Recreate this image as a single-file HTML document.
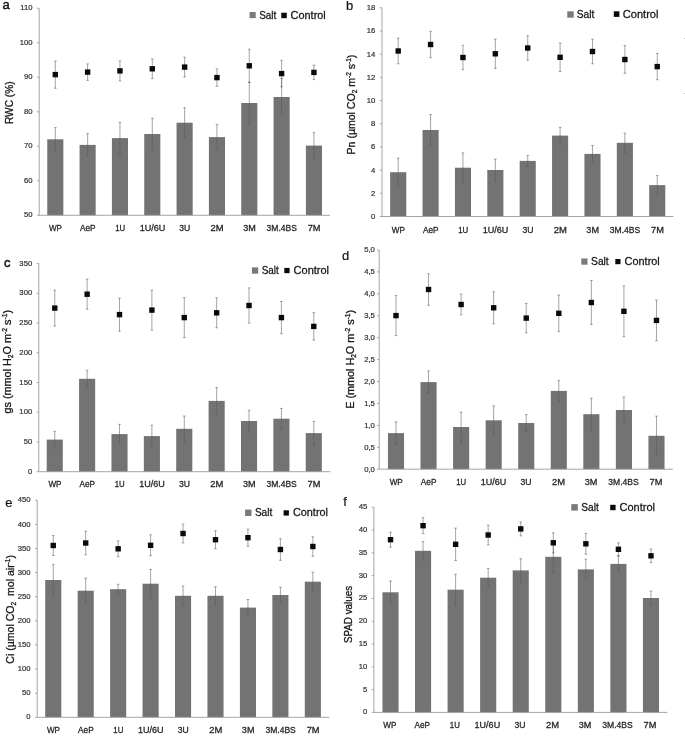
<!DOCTYPE html>
<html lang="en">
<head>
<meta charset="utf-8">
<title>Figure: physiological parameters under salt and control conditions</title>
<style>
html,body{margin:0;padding:0;background:#fff;}
body{width:685px;height:738px;overflow:hidden;}
svg{display:block;filter:blur(0.35px);}
text{font-family:"Liberation Sans",Arial,sans-serif;fill:#262626;}
.tk{font-size:7.7px;text-anchor:end;fill:#303030;stroke:#303030;stroke-width:0.2px;}
.xl{font-size:8.3px;text-anchor:middle;fill:#262626;stroke:#262626;stroke-width:0.27px;}
.lg{font-size:10.8px;fill:#161616;stroke:#161616;stroke-width:0.27px;}
.yt{fill:#161616;stroke:#161616;stroke-width:0.3px;}
.pl{font-size:13px;fill:#111;stroke:#111;stroke-width:0.18px;}
.pl.b{font-size:13px;stroke-width:0.45px;}
.ax{fill:none;stroke:#9c9c9c;stroke-width:0.9;}
.eb{fill:none;stroke:#5a5a5a;stroke-width:0.55;}
</style>
</head>
<body>
<svg width="685" height="738" viewBox="0 0 685 738">
<rect width="685" height="738" fill="#ffffff"/>
<g id="panel-a">
<rect x="47.25" y="139.3" width="16.1" height="76" fill="#737373"/>
<rect x="79.58" y="144.9" width="16.1" height="70.4" fill="#737373"/>
<rect x="111.91" y="138.1" width="16.1" height="77.2" fill="#737373"/>
<rect x="144.24" y="134" width="16.1" height="81.3" fill="#737373"/>
<rect x="176.57" y="122.7" width="16.1" height="92.6" fill="#737373"/>
<rect x="208.9" y="137.1" width="16.1" height="78.2" fill="#737373"/>
<rect x="241.23" y="103" width="16.1" height="112.3" fill="#737373"/>
<rect x="273.56" y="97" width="16.1" height="118.3" fill="#737373"/>
<rect x="305.89" y="145.6" width="16.1" height="69.7" fill="#737373"/>
<path class="ax" d="M39.2 8.3V215.3H330"/>
<path class="ax" d="M37 8.3H39.2M37 42.8H39.2M37 77.3H39.2M37 111.8H39.2M37 146.3H39.2M37 180.8H39.2M37 215.3H39.2"/>
<path class="eb" d="M55.3 127.6V151M54 127.6h2.6M54 151h2.6M55.3 61V88.2M54 61h2.6M54 88.2h2.6M87.63 133.6V156.2M86.33 133.6h2.6M86.33 156.2h2.6M87.63 63.9V80.3M86.33 63.9h2.6M86.33 80.3h2.6M119.96 122.5V153.7M118.66 122.5h2.6M118.66 153.7h2.6M119.96 60.9V80.9M118.66 60.9h2.6M118.66 80.9h2.6M152.29 118.2V149.8M150.99 118.2h2.6M150.99 149.8h2.6M152.29 59V78.6M150.99 59h2.6M150.99 78.6h2.6M184.62 107.7V137.7M183.32 107.7h2.6M183.32 137.7h2.6M184.62 57.2V77M183.32 57.2h2.6M183.32 77h2.6M216.95 124.6V149.6M215.65 124.6h2.6M215.65 149.6h2.6M216.95 68.9V86.3M215.65 68.9h2.6M215.65 86.3h2.6M249.28 82.2V123.8M247.98 82.2h2.6M247.98 123.8h2.6M249.28 49.2V82.4M247.98 49.2h2.6M247.98 82.4h2.6M281.61 78.4V115.6M280.31 78.4h2.6M280.31 115.6h2.6M281.61 60.3V86.9M280.31 60.3h2.6M280.31 86.9h2.6M313.94 132.4V158.8M312.64 132.4h2.6M312.64 158.8h2.6M313.94 65.2V79.6M312.64 65.2h2.6M312.64 79.6h2.6"/>
<rect x="52.6" y="71.9" width="5.4" height="5.4" fill="#0a0a0a"/>
<rect x="84.93" y="69.4" width="5.4" height="5.4" fill="#0a0a0a"/>
<rect x="117.26" y="68.2" width="5.4" height="5.4" fill="#0a0a0a"/>
<rect x="149.59" y="66.1" width="5.4" height="5.4" fill="#0a0a0a"/>
<rect x="181.92" y="64.4" width="5.4" height="5.4" fill="#0a0a0a"/>
<rect x="214.25" y="74.9" width="5.4" height="5.4" fill="#0a0a0a"/>
<rect x="246.58" y="63.1" width="5.4" height="5.4" fill="#0a0a0a"/>
<rect x="278.91" y="70.9" width="5.4" height="5.4" fill="#0a0a0a"/>
<rect x="311.24" y="69.7" width="5.4" height="5.4" fill="#0a0a0a"/>
<text class="tk" x="32.6" y="10.1">110</text>
<text class="tk" x="32.6" y="44.6">100</text>
<text class="tk" x="32.6" y="79.1">90</text>
<text class="tk" x="32.6" y="113.6">80</text>
<text class="tk" x="32.6" y="148.1">70</text>
<text class="tk" x="32.6" y="182.6">60</text>
<text class="tk" x="32.6" y="217.1">50</text>
<text class="xl" x="55.5" y="231.3" textLength="13.1" lengthAdjust="spacingAndGlyphs">WP</text>
<text class="xl" x="87.83" y="231.3" textLength="15.6" lengthAdjust="spacingAndGlyphs">AeP</text>
<text class="xl" x="120.16" y="231.3" textLength="10" lengthAdjust="spacingAndGlyphs">1U</text>
<text class="xl" x="152.49" y="231.3" textLength="25.6" lengthAdjust="spacingAndGlyphs">1U/6U</text>
<text class="xl" x="184.82" y="231.3" textLength="11" lengthAdjust="spacingAndGlyphs">3U</text>
<text class="xl" x="217.15" y="231.3" textLength="13.1" lengthAdjust="spacingAndGlyphs">2M</text>
<text class="xl" x="249.48" y="231.3" textLength="12.6" lengthAdjust="spacingAndGlyphs">3M</text>
<text class="xl" x="281.81" y="231.3" textLength="30.4" lengthAdjust="spacingAndGlyphs">3M.4BS</text>
<text class="xl" x="314.14" y="231.3" textLength="12.8" lengthAdjust="spacingAndGlyphs">7M</text>
<rect x="249.6" y="12" width="6.1" height="6.1" fill="#7a7a7a"/>
<text class="lg" x="259.2" y="18.6" textLength="17.1" lengthAdjust="spacingAndGlyphs">Salt</text>
<rect x="281.3" y="12.7" width="5.5" height="5.5" fill="#0a0a0a"/>
<text class="lg" x="290.6" y="18.6" textLength="35.2" lengthAdjust="spacingAndGlyphs">Control</text>
<text class="yt" font-size="10.7" transform="translate(12.5 124.1) rotate(-90)" textLength="42.7" lengthAdjust="spacingAndGlyphs">RWC (%)</text>
<text class="pl b" x="2.6" y="9.3">a</text>
</g>
<g id="panel-b">
<rect x="390.15" y="172.2" width="16.1" height="44.3" fill="#737373"/>
<rect x="422.53" y="130" width="16.1" height="86.5" fill="#737373"/>
<rect x="454.91" y="167.7" width="16.1" height="48.8" fill="#737373"/>
<rect x="487.29" y="170" width="16.1" height="46.5" fill="#737373"/>
<rect x="519.67" y="160.9" width="16.1" height="55.6" fill="#737373"/>
<rect x="552.05" y="135.6" width="16.1" height="80.9" fill="#737373"/>
<rect x="584.43" y="153.9" width="16.1" height="62.6" fill="#737373"/>
<rect x="616.81" y="142.8" width="16.1" height="73.7" fill="#737373"/>
<rect x="649.19" y="185.1" width="16.1" height="31.4" fill="#737373"/>
<path class="ax" d="M382 7.8V216.5H673.3"/>
<path class="ax" d="M379.8 7.8H382M379.8 30.99H382M379.8 54.18H382M379.8 77.37H382M379.8 100.56H382M379.8 123.74H382M379.8 146.93H382M379.8 170.12H382M379.8 193.31H382M379.8 216.5H382"/>
<path class="eb" d="M398.2 158.2V186.2M396.9 158.2h2.6M396.9 186.2h2.6M398.2 38.2V63.8M396.9 38.2h2.6M396.9 63.8h2.6M430.58 114.5V145.5M429.28 114.5h2.6M429.28 145.5h2.6M430.58 31.3V57.7M429.28 31.3h2.6M429.28 57.7h2.6M462.96 152.9V182.5M461.66 152.9h2.6M461.66 182.5h2.6M462.96 45.3V69.7M461.66 45.3h2.6M461.66 69.7h2.6M495.34 159V181M494.04 159h2.6M494.04 181h2.6M495.34 39.2V68.4M494.04 39.2h2.6M494.04 68.4h2.6M527.72 155.5V166.3M526.42 155.5h2.6M526.42 166.3h2.6M527.72 35.8V60.2M526.42 35.8h2.6M526.42 60.2h2.6M560.1 127.4V143.8M558.8 127.4h2.6M558.8 143.8h2.6M560.1 43.1V71.5M558.8 43.1h2.6M558.8 71.5h2.6M592.48 145.5V162.3M591.18 145.5h2.6M591.18 162.3h2.6M592.48 39.2V63.8M591.18 39.2h2.6M591.18 63.8h2.6M624.86 133.2V152.4M623.56 133.2h2.6M623.56 152.4h2.6M624.86 45.7V73.3M623.56 45.7h2.6M623.56 73.3h2.6M657.24 175.6V194.6M655.94 175.6h2.6M655.94 194.6h2.6M657.24 53.5V79.7M655.94 53.5h2.6M655.94 79.7h2.6"/>
<rect x="395.5" y="48.3" width="5.4" height="5.4" fill="#0a0a0a"/>
<rect x="427.88" y="41.8" width="5.4" height="5.4" fill="#0a0a0a"/>
<rect x="460.26" y="54.8" width="5.4" height="5.4" fill="#0a0a0a"/>
<rect x="492.64" y="51.1" width="5.4" height="5.4" fill="#0a0a0a"/>
<rect x="525.02" y="45.3" width="5.4" height="5.4" fill="#0a0a0a"/>
<rect x="557.4" y="54.6" width="5.4" height="5.4" fill="#0a0a0a"/>
<rect x="589.78" y="48.8" width="5.4" height="5.4" fill="#0a0a0a"/>
<rect x="622.16" y="56.8" width="5.4" height="5.4" fill="#0a0a0a"/>
<rect x="654.54" y="63.9" width="5.4" height="5.4" fill="#0a0a0a"/>
<text class="tk" x="375.4" y="10.2">18</text>
<text class="tk" x="375.4" y="33.39">16</text>
<text class="tk" x="375.4" y="56.58">14</text>
<text class="tk" x="375.4" y="79.77">12</text>
<text class="tk" x="375.4" y="102.96">10</text>
<text class="tk" x="375.4" y="126.14">8</text>
<text class="tk" x="375.4" y="149.33">6</text>
<text class="tk" x="375.4" y="172.52">4</text>
<text class="tk" x="375.4" y="195.71">2</text>
<text class="tk" x="375.4" y="218.9">0</text>
<text class="xl" x="398.4" y="232.5" textLength="13.1" lengthAdjust="spacingAndGlyphs">WP</text>
<text class="xl" x="430.78" y="232.5" textLength="15.6" lengthAdjust="spacingAndGlyphs">AeP</text>
<text class="xl" x="463.16" y="232.5" textLength="10" lengthAdjust="spacingAndGlyphs">1U</text>
<text class="xl" x="495.54" y="232.5" textLength="25.6" lengthAdjust="spacingAndGlyphs">1U/6U</text>
<text class="xl" x="527.92" y="232.5" textLength="11" lengthAdjust="spacingAndGlyphs">3U</text>
<text class="xl" x="560.3" y="232.5" textLength="13.1" lengthAdjust="spacingAndGlyphs">2M</text>
<text class="xl" x="592.68" y="232.5" textLength="12.6" lengthAdjust="spacingAndGlyphs">3M</text>
<text class="xl" x="625.06" y="232.5" textLength="30.4" lengthAdjust="spacingAndGlyphs">3M.4BS</text>
<text class="xl" x="657.44" y="232.5" textLength="12.8" lengthAdjust="spacingAndGlyphs">7M</text>
<rect x="567.3" y="11.3" width="6.4" height="6.4" fill="#7a7a7a"/>
<text class="lg" x="576.8" y="18" textLength="17.6" lengthAdjust="spacingAndGlyphs">Salt</text>
<rect x="613.8" y="11.3" width="5.6" height="5.6" fill="#0a0a0a"/>
<text class="lg" x="622.8" y="18" textLength="35.7" lengthAdjust="spacingAndGlyphs">Control</text>
<text class="yt" font-size="10.7" transform="translate(354.6 154.4) rotate(-90)" textLength="99.7" lengthAdjust="spacingAndGlyphs">Pn (µmol CO<tspan font-size="6.63" dy="2.5">2</tspan><tspan dy="-2.5"> m</tspan><tspan font-size="6.63" dy="-3.6">-2</tspan><tspan dy="3.6"> s</tspan><tspan font-size="6.63" dy="-3.6">-1</tspan><tspan dy="3.6">)</tspan></text>
<text class="pl" x="346" y="10">b</text>
</g>
<g id="panel-c">
<rect x="46.7" y="439.6" width="16.1" height="32.1" fill="#737373"/>
<rect x="79.08" y="378.8" width="16.1" height="92.9" fill="#737373"/>
<rect x="111.46" y="434.1" width="16.1" height="37.6" fill="#737373"/>
<rect x="143.84" y="436.1" width="16.1" height="35.6" fill="#737373"/>
<rect x="176.22" y="428.8" width="16.1" height="42.9" fill="#737373"/>
<rect x="208.6" y="400.9" width="16.1" height="70.8" fill="#737373"/>
<rect x="240.98" y="421" width="16.1" height="50.7" fill="#737373"/>
<rect x="273.36" y="418.7" width="16.1" height="53" fill="#737373"/>
<rect x="305.74" y="433.1" width="16.1" height="38.6" fill="#737373"/>
<path class="ax" d="M38.8 263.6V471.7H330.3"/>
<path class="ax" d="M36.6 263.6H38.8M36.6 293.33H38.8M36.6 323.06H38.8M36.6 352.79H38.8M36.6 382.51H38.8M36.6 412.24H38.8M36.6 441.97H38.8M36.6 471.7H38.8"/>
<path class="eb" d="M54.75 431.3V447.9M53.45 431.3h2.6M53.45 447.9h2.6M54.75 290.2V326M53.45 290.2h2.6M53.45 326h2.6M87.13 370.2V387.4M85.83 370.2h2.6M85.83 387.4h2.6M87.13 279.1V309.3M85.83 279.1h2.6M85.83 309.3h2.6M119.51 424.3V443.9M118.21 424.3h2.6M118.21 443.9h2.6M119.51 298V331.2M118.21 298h2.6M118.21 331.2h2.6M151.89 425.2V447M150.59 425.2h2.6M150.59 447h2.6M151.89 290.1V330.1M150.59 290.1h2.6M150.59 330.1h2.6M184.27 416V441.6M182.97 416h2.6M182.97 441.6h2.6M184.27 297.7V337.5M182.97 297.7h2.6M182.97 337.5h2.6M216.65 387.5V414.3M215.35 387.5h2.6M215.35 414.3h2.6M216.65 297.8V327.8M215.35 297.8h2.6M215.35 327.8h2.6M249.03 410.3V431.7M247.73 410.3h2.6M247.73 431.7h2.6M249.03 287.9V323.1M247.73 287.9h2.6M247.73 323.1h2.6M281.41 408.4V429M280.11 408.4h2.6M280.11 429h2.6M281.41 301.5V333.7M280.11 301.5h2.6M280.11 333.7h2.6M313.79 421.4V444.8M312.49 421.4h2.6M312.49 444.8h2.6M313.79 312.7V340.1M312.49 312.7h2.6M312.49 340.1h2.6"/>
<rect x="52.05" y="305.4" width="5.4" height="5.4" fill="#0a0a0a"/>
<rect x="84.43" y="291.5" width="5.4" height="5.4" fill="#0a0a0a"/>
<rect x="116.81" y="311.9" width="5.4" height="5.4" fill="#0a0a0a"/>
<rect x="149.19" y="307.4" width="5.4" height="5.4" fill="#0a0a0a"/>
<rect x="181.57" y="314.9" width="5.4" height="5.4" fill="#0a0a0a"/>
<rect x="213.95" y="310.1" width="5.4" height="5.4" fill="#0a0a0a"/>
<rect x="246.33" y="302.8" width="5.4" height="5.4" fill="#0a0a0a"/>
<rect x="278.71" y="314.9" width="5.4" height="5.4" fill="#0a0a0a"/>
<rect x="311.09" y="323.7" width="5.4" height="5.4" fill="#0a0a0a"/>
<text class="tk" x="32.2" y="265.75">350</text>
<text class="tk" x="32.2" y="295.48">300</text>
<text class="tk" x="32.2" y="325.21">250</text>
<text class="tk" x="32.2" y="354.94">200</text>
<text class="tk" x="32.2" y="384.66">150</text>
<text class="tk" x="32.2" y="414.39">100</text>
<text class="tk" x="32.2" y="444.12">50</text>
<text class="tk" x="32.2" y="473.85">0</text>
<text class="xl" x="54.95" y="487.3" textLength="13.1" lengthAdjust="spacingAndGlyphs">WP</text>
<text class="xl" x="87.33" y="487.3" textLength="15.6" lengthAdjust="spacingAndGlyphs">AeP</text>
<text class="xl" x="119.71" y="487.3" textLength="10" lengthAdjust="spacingAndGlyphs">1U</text>
<text class="xl" x="152.09" y="487.3" textLength="25.6" lengthAdjust="spacingAndGlyphs">1U/6U</text>
<text class="xl" x="184.47" y="487.3" textLength="11" lengthAdjust="spacingAndGlyphs">3U</text>
<text class="xl" x="216.85" y="487.3" textLength="13.1" lengthAdjust="spacingAndGlyphs">2M</text>
<text class="xl" x="249.23" y="487.3" textLength="12.6" lengthAdjust="spacingAndGlyphs">3M</text>
<text class="xl" x="281.61" y="487.3" textLength="30.4" lengthAdjust="spacingAndGlyphs">3M.4BS</text>
<text class="xl" x="313.99" y="487.3" textLength="12.8" lengthAdjust="spacingAndGlyphs">7M</text>
<rect x="251.9" y="267.4" width="6.3" height="6.3" fill="#7a7a7a"/>
<text class="lg" x="261.7" y="273.6" textLength="17.1" lengthAdjust="spacingAndGlyphs">Salt</text>
<rect x="284.3" y="267.9" width="5.3" height="5.3" fill="#0a0a0a"/>
<text class="lg" x="293.6" y="273.6" textLength="35.4" lengthAdjust="spacingAndGlyphs">Control</text>
<text class="yt" font-size="10.7" transform="translate(10.9 413.5) rotate(-90)" textLength="103.6" lengthAdjust="spacingAndGlyphs">gs (mmol H<tspan font-size="6.63" dy="2.5">2</tspan><tspan dy="-2.5">O m</tspan><tspan font-size="6.63" dy="-3.6">-2</tspan><tspan dy="3.6"> s</tspan><tspan font-size="6.63" dy="-3.6">-1</tspan><tspan dy="3.6">)</tspan></text>
<text class="pl b" x="3.9" y="266.9">c</text>
</g>
<g id="panel-d">
<rect x="387.95" y="433.1" width="16.1" height="36.1" fill="#737373"/>
<rect x="420.51" y="382.1" width="16.1" height="87.1" fill="#737373"/>
<rect x="453.07" y="427" width="16.1" height="42.2" fill="#737373"/>
<rect x="485.63" y="420.3" width="16.1" height="48.9" fill="#737373"/>
<rect x="518.19" y="423" width="16.1" height="46.2" fill="#737373"/>
<rect x="550.75" y="390.9" width="16.1" height="78.3" fill="#737373"/>
<rect x="583.31" y="414.2" width="16.1" height="55" fill="#737373"/>
<rect x="615.87" y="410" width="16.1" height="59.2" fill="#737373"/>
<rect x="648.43" y="435.8" width="16.1" height="33.4" fill="#737373"/>
<path class="ax" d="M379.2 250V469.2H672.8"/>
<path class="ax" d="M377 250H379.2M377 271.92H379.2M377 293.84H379.2M377 315.76H379.2M377 337.68H379.2M377 359.6H379.2M377 381.52H379.2M377 403.44H379.2M377 425.36H379.2M377 447.28H379.2M377 469.2H379.2"/>
<path class="eb" d="M396 421.9V444.3M394.7 421.9h2.6M394.7 444.3h2.6M396 295.6V335.6M394.7 295.6h2.6M394.7 335.6h2.6M428.56 370.9V393.3M427.26 370.9h2.6M427.26 393.3h2.6M428.56 273.7V305.3M427.26 273.7h2.6M427.26 305.3h2.6M461.12 412.2V441.8M459.82 412.2h2.6M459.82 441.8h2.6M461.12 294.2V314.8M459.82 294.2h2.6M459.82 314.8h2.6M493.68 405.9V434.7M492.38 405.9h2.6M492.38 434.7h2.6M493.68 291.8V323.8M492.38 291.8h2.6M492.38 323.8h2.6M526.24 414.6V431.4M524.94 414.6h2.6M524.94 431.4h2.6M526.24 303.4V332.8M524.94 303.4h2.6M524.94 332.8h2.6M558.8 380.4V401.4M557.5 380.4h2.6M557.5 401.4h2.6M558.8 295V331.6M557.5 295h2.6M557.5 331.6h2.6M591.36 398.2V430.2M590.06 398.2h2.6M590.06 430.2h2.6M591.36 280.5V324.5M590.06 280.5h2.6M590.06 324.5h2.6M623.92 397V423M622.62 397h2.6M622.62 423h2.6M623.92 285.9V336.7M622.62 285.9h2.6M622.62 336.7h2.6M656.48 416.1V455.5M655.18 416.1h2.6M655.18 455.5h2.6M656.48 300.1V340.7M655.18 300.1h2.6M655.18 340.7h2.6"/>
<rect x="393.3" y="312.9" width="5.4" height="5.4" fill="#0a0a0a"/>
<rect x="425.86" y="286.8" width="5.4" height="5.4" fill="#0a0a0a"/>
<rect x="458.42" y="301.8" width="5.4" height="5.4" fill="#0a0a0a"/>
<rect x="490.98" y="305.1" width="5.4" height="5.4" fill="#0a0a0a"/>
<rect x="523.54" y="315.4" width="5.4" height="5.4" fill="#0a0a0a"/>
<rect x="556.1" y="310.6" width="5.4" height="5.4" fill="#0a0a0a"/>
<rect x="588.66" y="299.8" width="5.4" height="5.4" fill="#0a0a0a"/>
<rect x="621.22" y="308.6" width="5.4" height="5.4" fill="#0a0a0a"/>
<rect x="653.78" y="317.7" width="5.4" height="5.4" fill="#0a0a0a"/>
<text class="tk" x="374.9" y="252.4">5,0</text>
<text class="tk" x="374.9" y="274.32">4,5</text>
<text class="tk" x="374.9" y="296.24">4,0</text>
<text class="tk" x="374.9" y="318.16">3,5</text>
<text class="tk" x="374.9" y="340.08">3,0</text>
<text class="tk" x="374.9" y="362">2,5</text>
<text class="tk" x="374.9" y="383.92">2,0</text>
<text class="tk" x="374.9" y="405.84">1,5</text>
<text class="tk" x="374.9" y="427.76">1,0</text>
<text class="tk" x="374.9" y="449.68">0,5</text>
<text class="tk" x="374.9" y="471.6">0,0</text>
<text class="xl" x="396.2" y="485.3" textLength="13.1" lengthAdjust="spacingAndGlyphs">WP</text>
<text class="xl" x="428.67" y="485.3" textLength="15.6" lengthAdjust="spacingAndGlyphs">AeP</text>
<text class="xl" x="461.14" y="485.3" textLength="10" lengthAdjust="spacingAndGlyphs">1U</text>
<text class="xl" x="493.61" y="485.3" textLength="25.6" lengthAdjust="spacingAndGlyphs">1U/6U</text>
<text class="xl" x="526.08" y="485.3" textLength="11" lengthAdjust="spacingAndGlyphs">3U</text>
<text class="xl" x="558.55" y="485.3" textLength="13.1" lengthAdjust="spacingAndGlyphs">2M</text>
<text class="xl" x="591.02" y="485.3" textLength="12.6" lengthAdjust="spacingAndGlyphs">3M</text>
<text class="xl" x="623.49" y="485.3" textLength="30.4" lengthAdjust="spacingAndGlyphs">3M.4BS</text>
<text class="xl" x="655.96" y="485.3" textLength="12.8" lengthAdjust="spacingAndGlyphs">7M</text>
<rect x="581.3" y="258.5" width="6.2" height="6.2" fill="#7a7a7a"/>
<text class="lg" x="591.1" y="264.8" textLength="17.6" lengthAdjust="spacingAndGlyphs">Salt</text>
<rect x="615.3" y="259" width="5.2" height="5.2" fill="#0a0a0a"/>
<text class="lg" x="624.6" y="264.8" textLength="35.2" lengthAdjust="spacingAndGlyphs">Control</text>
<text class="yt" font-size="10.7" transform="translate(353.6 408.7) rotate(-90)" textLength="98.8" lengthAdjust="spacingAndGlyphs">E (mmol H<tspan font-size="6.63" dy="2.5">2</tspan><tspan dy="-2.5">O m</tspan><tspan font-size="6.63" dy="-3.6">-2</tspan><tspan dy="3.6"> s</tspan><tspan font-size="6.63" dy="-3.6">-1</tspan><tspan dy="3.6">)</tspan></text>
<text class="pl" x="341.9" y="259.5">d</text>
</g>
<g id="panel-e">
<rect x="45.2" y="580" width="16.1" height="137.3" fill="#737373"/>
<rect x="77.65" y="590.7" width="16.1" height="126.6" fill="#737373"/>
<rect x="110.1" y="589.2" width="16.1" height="128.1" fill="#737373"/>
<rect x="142.55" y="583.7" width="16.1" height="133.6" fill="#737373"/>
<rect x="175" y="595.8" width="16.1" height="121.5" fill="#737373"/>
<rect x="207.45" y="595.8" width="16.1" height="121.5" fill="#737373"/>
<rect x="239.9" y="607.6" width="16.1" height="109.7" fill="#737373"/>
<rect x="272.35" y="595" width="16.1" height="122.3" fill="#737373"/>
<rect x="304.8" y="581.7" width="16.1" height="135.6" fill="#737373"/>
<path class="ax" d="M37.2 500.3V717.3H329.3"/>
<path class="ax" d="M35 500.3H37.2M35 524.41H37.2M35 548.52H37.2M35 572.63H37.2M35 596.74H37.2M35 620.86H37.2M35 644.97H37.2M35 669.08H37.2M35 693.19H37.2M35 717.3H37.2"/>
<path class="eb" d="M53.25 564.4V595.6M51.95 564.4h2.6M51.95 595.6h2.6M53.25 535.5V555.5M51.95 535.5h2.6M51.95 555.5h2.6M85.7 578.1V603.3M84.4 578.1h2.6M84.4 603.3h2.6M85.7 531.2V554.8M84.4 531.2h2.6M84.4 554.8h2.6M118.15 584.3V594.1M116.85 584.3h2.6M116.85 594.1h2.6M118.15 540.9V556.7M116.85 540.9h2.6M116.85 556.7h2.6M150.6 569.5V597.9M149.3 569.5h2.6M149.3 597.9h2.6M150.6 534.8V555.8M149.3 534.8h2.6M149.3 555.8h2.6M183.05 586V605.6M181.75 586h2.6M181.75 605.6h2.6M183.05 524.1V542.9M181.75 524.1h2.6M181.75 542.9h2.6M215.5 586.8V604.8M214.2 586.8h2.6M214.2 604.8h2.6M215.5 530.7V548.7M214.2 530.7h2.6M214.2 548.7h2.6M247.95 599.5V615.7M246.65 599.5h2.6M246.65 615.7h2.6M247.95 529.2V546.2M246.65 529.2h2.6M246.65 546.2h2.6M280.4 587.3V602.7M279.1 587.3h2.6M279.1 602.7h2.6M280.4 538.7V560.3M279.1 538.7h2.6M279.1 560.3h2.6M312.85 572.2V591.2M311.55 572.2h2.6M311.55 591.2h2.6M312.85 536.8V556.2M311.55 536.8h2.6M311.55 556.2h2.6"/>
<rect x="50.55" y="542.8" width="5.4" height="5.4" fill="#0a0a0a"/>
<rect x="83" y="540.3" width="5.4" height="5.4" fill="#0a0a0a"/>
<rect x="115.45" y="546.1" width="5.4" height="5.4" fill="#0a0a0a"/>
<rect x="147.9" y="542.6" width="5.4" height="5.4" fill="#0a0a0a"/>
<rect x="180.35" y="530.8" width="5.4" height="5.4" fill="#0a0a0a"/>
<rect x="212.8" y="537" width="5.4" height="5.4" fill="#0a0a0a"/>
<rect x="245.25" y="535" width="5.4" height="5.4" fill="#0a0a0a"/>
<rect x="277.7" y="546.8" width="5.4" height="5.4" fill="#0a0a0a"/>
<rect x="310.15" y="543.8" width="5.4" height="5.4" fill="#0a0a0a"/>
<text class="tk" x="30.6" y="502.4">450</text>
<text class="tk" x="30.6" y="526.51">400</text>
<text class="tk" x="30.6" y="550.62">350</text>
<text class="tk" x="30.6" y="574.73">300</text>
<text class="tk" x="30.6" y="598.84">250</text>
<text class="tk" x="30.6" y="622.96">200</text>
<text class="tk" x="30.6" y="647.07">150</text>
<text class="tk" x="30.6" y="671.18">100</text>
<text class="tk" x="30.6" y="695.29">50</text>
<text class="tk" x="30.6" y="719.4">0</text>
<text class="xl" x="53.45" y="733.1" textLength="13.1" lengthAdjust="spacingAndGlyphs">WP</text>
<text class="xl" x="85.9" y="733.1" textLength="15.6" lengthAdjust="spacingAndGlyphs">AeP</text>
<text class="xl" x="118.35" y="733.1" textLength="10" lengthAdjust="spacingAndGlyphs">1U</text>
<text class="xl" x="150.8" y="733.1" textLength="25.6" lengthAdjust="spacingAndGlyphs">1U/6U</text>
<text class="xl" x="183.25" y="733.1" textLength="11" lengthAdjust="spacingAndGlyphs">3U</text>
<text class="xl" x="215.7" y="733.1" textLength="13.1" lengthAdjust="spacingAndGlyphs">2M</text>
<text class="xl" x="248.15" y="733.1" textLength="12.6" lengthAdjust="spacingAndGlyphs">3M</text>
<text class="xl" x="280.6" y="733.1" textLength="30.4" lengthAdjust="spacingAndGlyphs">3M.4BS</text>
<text class="xl" x="313.05" y="733.1" textLength="12.8" lengthAdjust="spacingAndGlyphs">7M</text>
<rect x="245.1" y="509.6" width="6.4" height="6.4" fill="#7a7a7a"/>
<text class="lg" x="254.9" y="516.1" textLength="17.4" lengthAdjust="spacingAndGlyphs">Salt</text>
<rect x="283.6" y="510.3" width="5.3" height="5.3" fill="#0a0a0a"/>
<text class="lg" x="292.9" y="516.1" textLength="35.1" lengthAdjust="spacingAndGlyphs">Control</text>
<text class="yt" font-size="10.7" transform="translate(13.5 663.7) rotate(-90)" textLength="108.7" lengthAdjust="spacingAndGlyphs">Ci (µmol CO<tspan font-size="6.63" dy="2.5">2</tspan><tspan dy="-2.5">  mol air</tspan><tspan font-size="6.63" dy="-3.6">-1</tspan><tspan dy="3.6">)</tspan></text>
<text class="pl" x="5.2" y="507">e</text>
</g>
<g id="panel-f">
<rect x="382.45" y="592.3" width="16.1" height="120.1" fill="#737373"/>
<rect x="415.01" y="550.8" width="16.1" height="161.6" fill="#737373"/>
<rect x="447.57" y="589.7" width="16.1" height="122.7" fill="#737373"/>
<rect x="480.13" y="577.7" width="16.1" height="134.7" fill="#737373"/>
<rect x="512.69" y="570.4" width="16.1" height="142" fill="#737373"/>
<rect x="545.25" y="556.8" width="16.1" height="155.6" fill="#737373"/>
<rect x="577.81" y="569.4" width="16.1" height="143" fill="#737373"/>
<rect x="610.37" y="563.9" width="16.1" height="148.5" fill="#737373"/>
<rect x="642.93" y="598" width="16.1" height="114.4" fill="#737373"/>
<path class="ax" d="M373.9 507.3V712.4H667.3"/>
<path class="ax" d="M371.7 507.3H373.9M371.7 530.09H373.9M371.7 552.88H373.9M371.7 575.67H373.9M371.7 598.46H373.9M371.7 621.24H373.9M371.7 644.03H373.9M371.7 666.82H373.9M371.7 689.61H373.9M371.7 712.4H373.9"/>
<path class="eb" d="M390.5 581V603.6M389.2 581h2.6M389.2 603.6h2.6M390.5 532.2V547.2M389.2 532.2h2.6M389.2 547.2h2.6M423.06 541.6V560M421.76 541.6h2.6M421.76 560h2.6M423.06 517.7V533.7M421.76 517.7h2.6M421.76 533.7h2.6M455.62 574.3V605.1M454.32 574.3h2.6M454.32 605.1h2.6M455.62 528.1V560.5M454.32 528.1h2.6M454.32 560.5h2.6M488.18 568.4V587M486.88 568.4h2.6M486.88 587h2.6M488.18 525.2V544.8M486.88 525.2h2.6M486.88 544.8h2.6M520.74 558.7V582.1M519.44 558.7h2.6M519.44 582.1h2.6M520.74 521.9V535.9M519.44 521.9h2.6M519.44 535.9h2.6M553.3 540.7V572.9M552 540.7h2.6M552 572.9h2.6M553.3 532.8V552.8M552 532.8h2.6M552 552.8h2.6M585.86 559.2V579.6M584.56 559.2h2.6M584.56 579.6h2.6M585.86 533.4V554.2M584.56 533.4h2.6M584.56 554.2h2.6M618.42 555.9V571.9M617.12 555.9h2.6M617.12 571.9h2.6M618.42 542.8V555.8M617.12 542.8h2.6M617.12 555.8h2.6M650.98 591.2V604.8M649.68 591.2h2.6M649.68 604.8h2.6M650.98 549V562.6M649.68 549h2.6M649.68 562.6h2.6"/>
<rect x="387.8" y="537" width="5.4" height="5.4" fill="#0a0a0a"/>
<rect x="420.36" y="523" width="5.4" height="5.4" fill="#0a0a0a"/>
<rect x="452.92" y="541.6" width="5.4" height="5.4" fill="#0a0a0a"/>
<rect x="485.48" y="532.3" width="5.4" height="5.4" fill="#0a0a0a"/>
<rect x="518.04" y="526.2" width="5.4" height="5.4" fill="#0a0a0a"/>
<rect x="550.6" y="540.1" width="5.4" height="5.4" fill="#0a0a0a"/>
<rect x="583.16" y="541.1" width="5.4" height="5.4" fill="#0a0a0a"/>
<rect x="615.72" y="546.6" width="5.4" height="5.4" fill="#0a0a0a"/>
<rect x="648.28" y="553.1" width="5.4" height="5.4" fill="#0a0a0a"/>
<text class="tk" x="367.3" y="509.2">45</text>
<text class="tk" x="367.3" y="531.99">40</text>
<text class="tk" x="367.3" y="554.78">35</text>
<text class="tk" x="367.3" y="577.57">30</text>
<text class="tk" x="367.3" y="600.36">25</text>
<text class="tk" x="367.3" y="623.14">20</text>
<text class="tk" x="367.3" y="645.93">15</text>
<text class="tk" x="367.3" y="668.72">10</text>
<text class="tk" x="367.3" y="691.51">5</text>
<text class="tk" x="367.3" y="714.3">0</text>
<text class="xl" x="389.8" y="727.6" textLength="13.1" lengthAdjust="spacingAndGlyphs">WP</text>
<text class="xl" x="422.33" y="727.6" textLength="15.6" lengthAdjust="spacingAndGlyphs">AeP</text>
<text class="xl" x="454.86" y="727.6" textLength="10" lengthAdjust="spacingAndGlyphs">1U</text>
<text class="xl" x="487.39" y="727.6" textLength="25.6" lengthAdjust="spacingAndGlyphs">1U/6U</text>
<text class="xl" x="519.92" y="727.6" textLength="11" lengthAdjust="spacingAndGlyphs">3U</text>
<text class="xl" x="552.45" y="727.6" textLength="13.1" lengthAdjust="spacingAndGlyphs">2M</text>
<text class="xl" x="584.98" y="727.6" textLength="12.6" lengthAdjust="spacingAndGlyphs">3M</text>
<text class="xl" x="617.51" y="727.6" textLength="30.4" lengthAdjust="spacingAndGlyphs">3M.4BS</text>
<text class="xl" x="650.04" y="727.6" textLength="12.8" lengthAdjust="spacingAndGlyphs">7M</text>
<rect x="571.3" y="504.1" width="6.5" height="6.5" fill="#7a7a7a"/>
<text class="lg" x="581.3" y="510.8" textLength="17.4" lengthAdjust="spacingAndGlyphs">Salt</text>
<rect x="610.2" y="504.8" width="5.4" height="5.4" fill="#0a0a0a"/>
<text class="lg" x="619.5" y="510.8" textLength="35.5" lengthAdjust="spacingAndGlyphs">Control</text>
<text class="yt" font-size="10.7" transform="translate(352.4 643.1) rotate(-90)" textLength="57.2" lengthAdjust="spacingAndGlyphs">SPAD values</text>
<text class="pl" x="343.3" y="505.8">f</text>
</g>
<rect x="684.2" y="38" width="0.8" height="1" fill="#bdbdbd"/><rect x="684.2" y="93" width="0.8" height="1" fill="#bdbdbd"/>
</svg>
</body>
</html>
